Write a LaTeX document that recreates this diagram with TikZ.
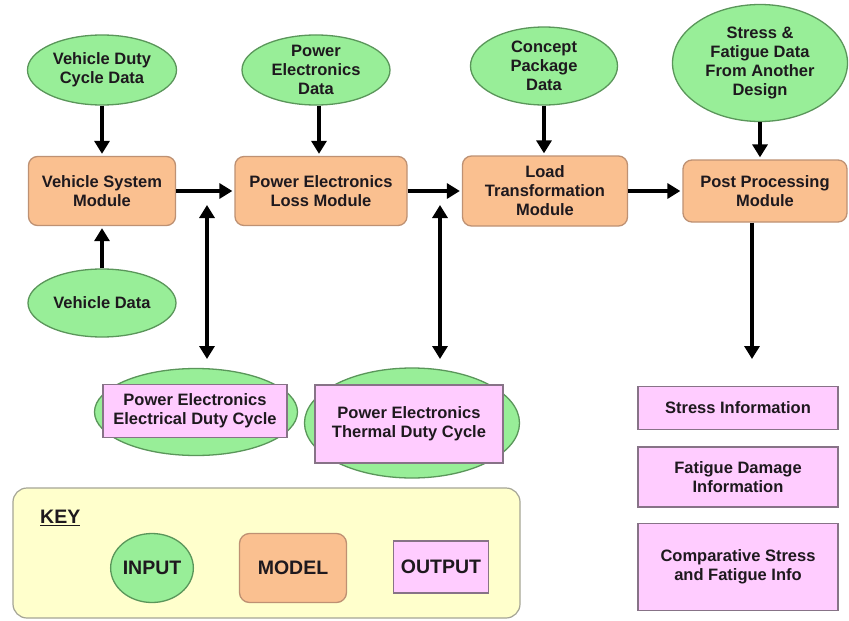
\documentclass[tikz,border=0pt]{standalone}
\usepackage{fontspec}
\setmainfont{Liberation Sans}
\usetikzlibrary{shapes.geometric,arrows.meta}
\definecolor{ingreen}{RGB}{152,238,152}
\definecolor{inborder}{RGB}{90,150,90}
\definecolor{modfill}{RGB}{250,192,144}
\definecolor{modborder}{RGB}{190,145,115}
\definecolor{outfill}{RGB}{255,204,255}
\definecolor{outborder}{RGB}{135,115,135}
\definecolor{keyfill}{RGB}{255,255,204}
\definecolor{keyborder}{RGB}{165,165,150}
\definecolor{txt}{RGB}{30,25,30}
\tikzset{
  base/.style={font=\fontsize{16.5}{19}\selectfont\bfseries, text=txt, align=center, inner sep=0pt},
  inputnode/.style={base, ellipse, draw=inborder, fill=ingreen, line width=1.3pt},
  modelnode/.style={base, rectangle, rounded corners=9pt, draw=modborder, fill=modfill, line width=1.3pt},
  outputnode/.style={base, rectangle, draw=outborder, fill=outfill, line width=1.3pt},
  flow/.style={line width=4.5pt, draw=black, -{Triangle[length=13pt,width=15pt]}, shorten >=2pt},
  twoway/.style={line width=4.5pt, draw=black, {Triangle[length=13pt,width=15pt]}-{Triangle[length=13pt,width=15pt]}},
  keytext/.style={font=\fontsize{19.5}{22}\selectfont\bfseries, text=txt, inner sep=0pt}
}
\begin{document}
\begin{tikzpicture}[x=1pt,y=-1pt]
\useasboundingbox[fill=white] (0,0) rectangle (849,621);

% inputs
\node[inputnode, minimum width=149pt, minimum height=70pt] (vdc) at (102,70) {Vehicle Duty\\Cycle Data};
\node[inputnode, minimum width=148pt, minimum height=70pt] (ped) at (316,70) {Power\\Electronics\\Data};
\node[inputnode, minimum width=147pt, minimum height=78pt] (cpd) at (544,66) {Concept\\Package\\Data};
\node[inputnode, minimum width=175pt, minimum height=117pt] (sfd) at (760,63) {Stress \&\\Fatigue Data\\From Another\\Design};
\node[inputnode, minimum width=148pt, minimum height=68pt] (vd) at (102,303) {Vehicle Data};

% models
\node[modelnode, minimum width=147pt, minimum height=69pt] (vsm) at (102,191) {Vehicle System\\Module};
\node[modelnode, minimum width=172pt, minimum height=69pt] (pel) at (321,191) {Power Electronics\\Loss Module};
\node[modelnode, minimum width=165pt, minimum height=70pt] (ltm) at (545,191) {Load\\Transformation\\Module};
\node[modelnode, minimum width=164pt, minimum height=62pt] (ppm) at (765,191) {Post Processing\\Module};

% output duty cycles (ellipse behind rectangle)
\node[inputnode, minimum width=203pt, minimum height=87pt] (eedc) at (196,412) {};
\node[outputnode, minimum width=184pt, minimum height=53pt] (edc) at (195,411) {Power Electronics\\Electrical Duty Cycle};
\node[inputnode, minimum width=215pt, minimum height=110pt] (etdc) at (412,423) {};
\node[outputnode, minimum width=188pt, minimum height=78pt] (tdc) at (409,424) {Power Electronics\\Thermal Duty Cycle};

% right outputs
\node[outputnode, minimum width=200pt, minimum height=43pt] (si) at (738,408) {Stress Information};
\node[outputnode, minimum width=200pt, minimum height=60pt] (fdi) at (738,477) {Fatigue Damage\\Information};
\node[outputnode, minimum width=200pt, minimum height=87pt] (csf) at (738,567) {Comparative Stress\\and Fatigue Info};

% key
\node[draw=keyborder, fill=keyfill, line width=1.2pt, rounded corners=14pt, minimum width=507pt, minimum height=130pt, inner sep=0pt] (key) at (266.5,553) {};
\node[keytext, anchor=west] (keylbl) at (40,518) {\underline{KEY}};
\node[inputnode, keytext, minimum width=81pt, minimum height=69pt] (kin) at (152,568) {INPUT};
\node[modelnode, keytext, rounded corners=10pt, minimum width=107pt, minimum height=69pt] (kmod) at (293,568) {MODEL};
\node[outputnode, keytext, minimum width=95pt, minimum height=52pt] (kout) at (441,567) {OUTPUT};

% coordinates for free ends
\coordinate (a1t) at (207,205);
\coordinate (a1b) at (207,359);
\coordinate (a2t) at (440,205);
\coordinate (a2b) at (440,359);
\coordinate (ppmb) at (752,359);

% connectors
\draw[flow] (vdc.south) -- (vsm.north);
\draw[flow] ([xshift=3pt]ped.south) -- ([xshift=3pt]ped.south |- pel.north);
\draw[flow] (cpd.south) -- (cpd.south |- ltm.north);
\draw[flow] (sfd.south) -- (sfd.south |- ppm.north);
\draw[flow] (vd.north) -- (vsm.south);
\draw[flow] (vsm.east) -- (pel.west);
\draw[flow] (pel.east) -- (ltm.west);
\draw[flow] (ltm.east) -- (ppm.west);
\draw[flow, shorten >=0pt] (ppm.south -| ppmb) -- (ppmb);
\draw[twoway] (a1t) -- (a1b);
\draw[twoway] (a2t) -- (a2b);
\end{tikzpicture}
\end{document}
